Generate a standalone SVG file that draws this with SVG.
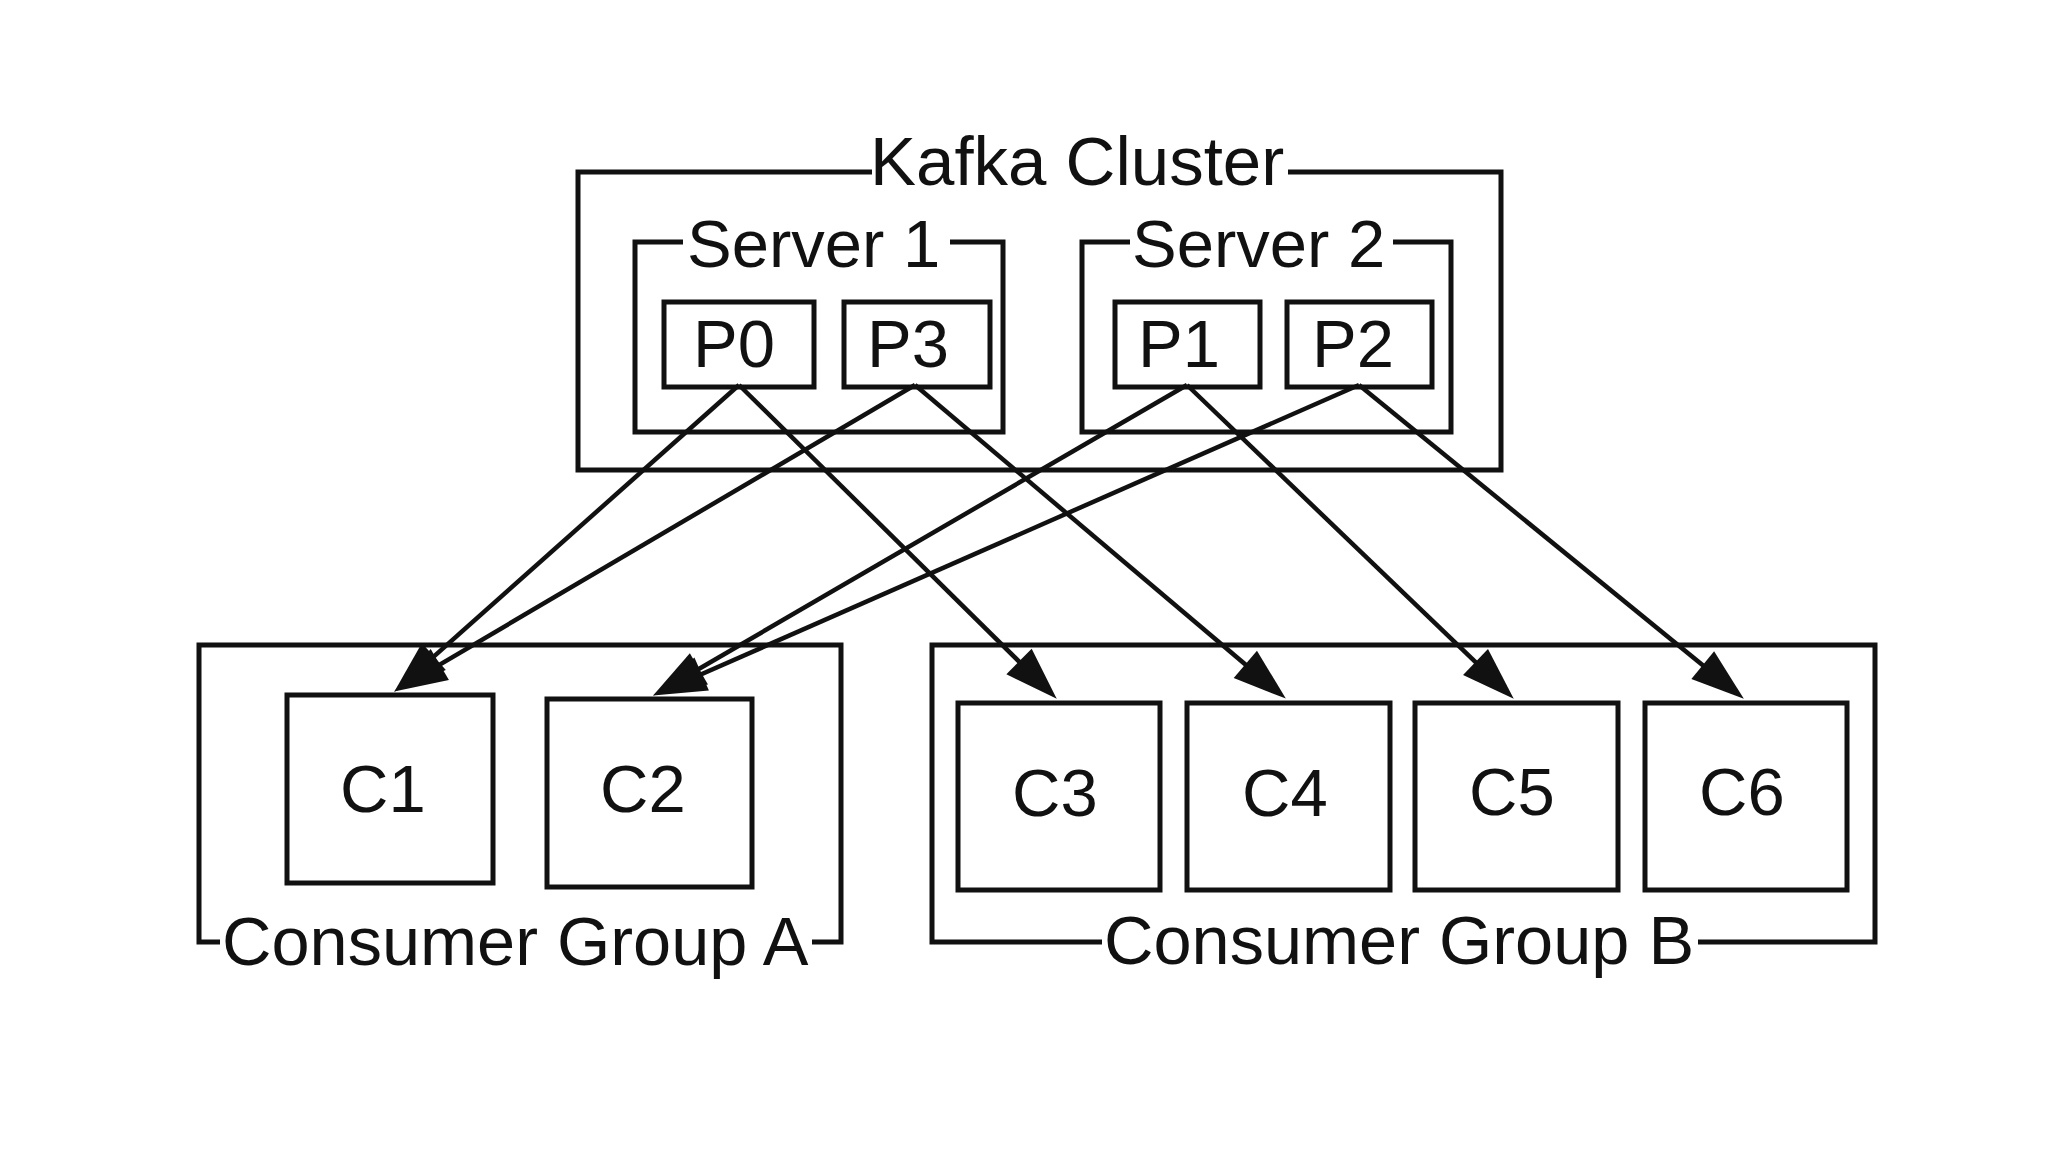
<svg xmlns="http://www.w3.org/2000/svg" width="2048" height="1152" viewBox="0 0 2048 1152">
<defs>
<style>
.frame{fill:none;stroke:#111;stroke-width:5;stroke-linejoin:miter}
.box{fill:#fff;stroke:#111;stroke-width:5}
.lbl{font-family:"Liberation Sans",Arial,Helvetica,sans-serif;font-size:67px;fill:#111}
.big{font-size:69px}
.grp{font-size:68.5px}
.edge{fill:none;stroke:#111;stroke-width:4.5}
</style>
<marker id="arrow" markerUnits="userSpaceOnUse" markerWidth="60" markerHeight="40" refX="42" refY="18" orient="auto" overflow="visible">
<path d="M0,0 L53,18 L0,36 Z" fill="#111"/>
</marker>
</defs>
<rect width="2048" height="1152" fill="#fff"/>

<g id="kafka-cluster">
<path class="frame" d="M872,172 H578 V470 H1501 V172 H1288"/>
<text class="lbl big" x="870" y="185">Kafka Cluster</text>
</g>

<g id="server-1">
<path class="frame" d="M683,242 H635 V432 H1003 V242 H950"/>
<text class="lbl" x="687" y="267">Server 1</text>
</g>

<g id="server-2">
<path class="frame" d="M1130,242 H1082 V432 H1451 V242 H1393"/>
<text class="lbl" x="1132" y="267">Server 2</text>
</g>

<g id="p0">
<rect class="box" x="664" y="302" width="150" height="85"/>
<text class="lbl" x="693" y="367">P0</text>
</g>
<g id="p3">
<rect class="box" x="844" y="302" width="146" height="85"/>
<text class="lbl" x="867" y="367">P3</text>
</g>
<g id="p1">
<rect class="box" x="1115" y="302" width="145" height="85"/>
<text class="lbl" x="1138" y="367">P1</text>
</g>
<g id="p2">
<rect class="box" x="1287" y="302" width="145" height="85"/>
<text class="lbl" x="1312" y="367">P2</text>
</g>

<g id="consumer-group-a">
<path class="frame" d="M220,942 H199 V645 H841 V942 H812"/>
<text class="lbl grp" x="222" y="965">Consumer Group A</text>
</g>

<g id="consumer-group-b">
<path class="frame" d="M1102,942 H932 V645 H1875 V942 H1698"/>
<text class="lbl grp" x="1104" y="964">Consumer Group B</text>
</g>

<g id="c1">
<rect class="box" x="287" y="695" width="206" height="188"/>
<text class="lbl" x="340" y="812">C1</text>
</g>
<g id="c2">
<rect class="box" x="547" y="699" width="205" height="188"/>
<text class="lbl" x="600" y="812">C2</text>
</g>
<g id="c3">
<rect class="box" x="958" y="703" width="202" height="187"/>
<text class="lbl" x="1012" y="816">C3</text>
</g>
<g id="c4">
<rect class="box" x="1187" y="703" width="203" height="187"/>
<text class="lbl" x="1242" y="816">C4</text>
</g>
<g id="c5">
<rect class="box" x="1415" y="703" width="203" height="187"/>
<text class="lbl" x="1469" y="815">C5</text>
</g>
<g id="c6">
<rect class="box" x="1645" y="703" width="202" height="187"/>
<text class="lbl" x="1699" y="815">C6</text>
</g>

<g id="connectors">
<line class="edge" x1="739" y1="385" x2="402.5" y2="684.4" marker-end="url(#arrow)"/>
<line class="edge" x1="915" y1="385" x2="403.6" y2="685.9" marker-end="url(#arrow)"/>
<line class="edge" x1="1187" y1="385" x2="662.6" y2="690" marker-end="url(#arrow)"/>
<line class="edge" x1="1359" y1="385" x2="663.2" y2="691" marker-end="url(#arrow)"/>
<line class="edge" x1="739" y1="385" x2="1048.9" y2="691" marker-end="url(#arrow)"/>
<line class="edge" x1="915" y1="385" x2="1277.4" y2="691.5" marker-end="url(#arrow)"/>
<line class="edge" x1="1187" y1="385" x2="1505.8" y2="691.1" marker-end="url(#arrow)"/>
<line class="edge" x1="1359" y1="385" x2="1735.3" y2="691.7" marker-end="url(#arrow)"/>
</g>
</svg>
